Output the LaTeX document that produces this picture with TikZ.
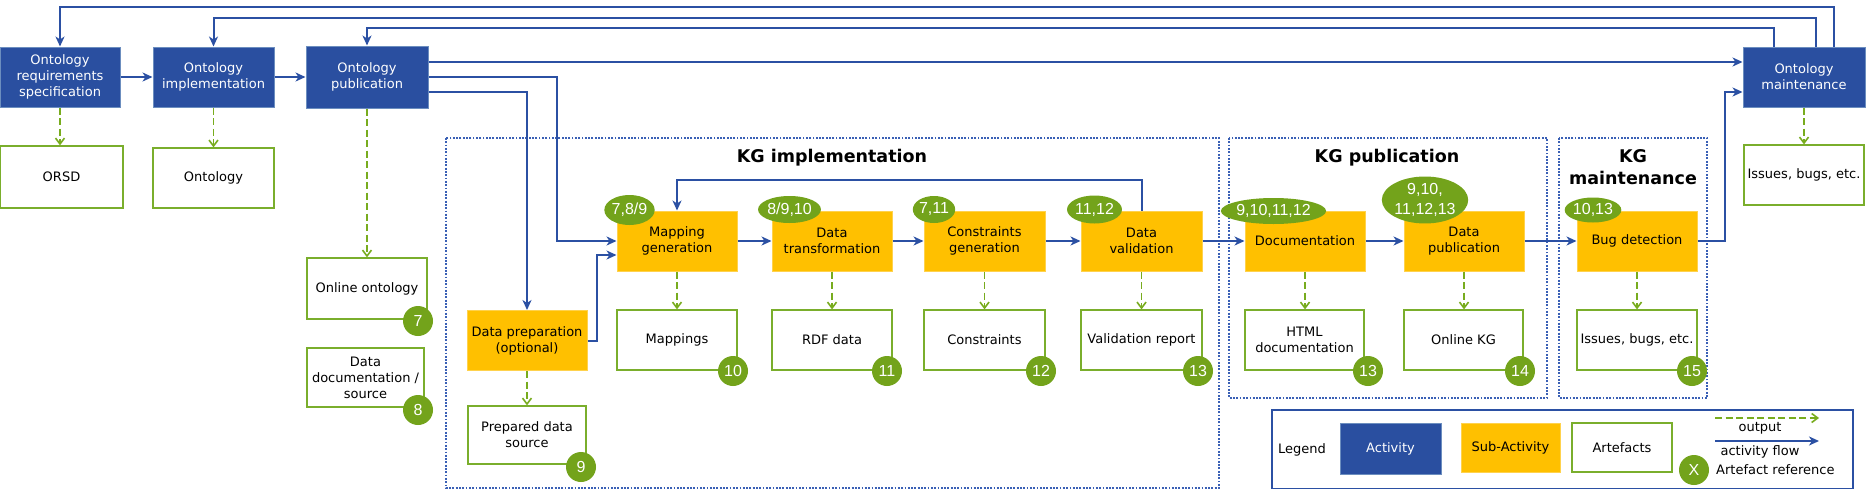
\documentclass[tikz,border=0pt]{standalone}
\usepackage{fontspec}
\setmainfont{DejaVu Sans}
\newfontfamily\numfont{Liberation Sans}
\usetikzlibrary{arrows.meta,shapes.geometric}
\definecolor{actblue}{HTML}{2A4FA0}
\definecolor{actborder}{HTML}{6C8EBF}
\definecolor{subor}{HTML}{FFC000}
\definecolor{suborb}{HTML}{FFD24D}
\definecolor{artgreen}{HTML}{7AAE2C}
\definecolor{numgreen}{HTML}{73A31B}
\definecolor{flowblue}{HTML}{2B50A3}
\definecolor{dotblue}{HTML}{3A60B5}
\definecolor{outgreen}{HTML}{78AC1E}
\tikzset{
 txt/.style={font=\fontsize{13}{16}\selectfont, align=center, inner sep=0pt},
 act/.style={txt, draw=actborder, line width=1pt, fill=actblue, text=white, minimum height=60pt},
 sub/.style={txt, draw=suborb, line width=1pt, fill=subor, text=black, minimum width=120pt, minimum height=60pt},
 art/.style={txt, draw=artgreen, line width=1.2pt, fill=white, text=black, minimum width=120pt, minimum height=60pt},
 num/.style={circle, fill=numgreen, text=white, minimum size=30pt, inner sep=0pt, font=\numfont\fontsize{16}{18}\selectfont},
 ell/.style={ellipse, fill=numgreen, text=white, inner sep=0pt, font=\numfont\fontsize{16}{18}\selectfont, align=center},
 flow/.style={draw=flowblue, line width=2pt, -{Stealth[length=10pt,width=9pt,inset=3pt]}},
 outp/.style={draw=outgreen, line width=1.6pt, dash pattern=on 7pt off 3.5pt, -{Straight Barb[length=6pt,width=9pt]}},
 kg/.style={draw=dotblue, line width=1.8pt, dash pattern=on 1.8pt off 1.5pt},
 ttl/.style={font=\bfseries\fontsize{17.5}{22}\selectfont, align=center, inner sep=0pt},
 lgd/.style={font=\fontsize{13}{16}\selectfont, inner sep=0pt},
}
\begin{document}
\begin{tikzpicture}[x=1pt,y=-1pt]
\useasboundingbox (0,0) rectangle (1866,490);
\fill[white] (0,0) rectangle (1866,490);

% dotted groups
\draw[kg] (446,138) rectangle (1219,488);
\draw[kg] (1229,138) rectangle (1547,398);
\draw[kg] (1559,138) rectangle (1707,398);
\node[ttl, anchor=base] (t1) at (832,162) {KG implementation};
\node[ttl, anchor=base] (t2) at (1387,162) {KG publication};
\node[ttl, anchor=base] (t3) at (1633,162) {KG};
\node[ttl, anchor=base] (t4) at (1633,184) {maintenance};

% activities
\node[act, minimum width=120pt] (ors) at (60,77) {Ontology\\requirements\\specification};
\node[act, minimum width=121pt] (impl) at (213.5,77) {Ontology\\implementation};
\node[act, minimum width=122pt, minimum height=62pt] (pub) at (367,77) {Ontology\\publication};
\node[act, minimum width=122pt] (maint) at (1804,77) {Ontology\\maintenance};

% sub-activities
\node[sub] (prep) at (527,340.5) {Data preparation\\(optional)};
\node[sub] (mapg) at (677,241) {Mapping\\generation};
\node[sub] (dtr) at (832,241) {Data\\transformation};
\node[sub, minimum width=121pt] (cons) at (984.5,241) {Constraints\\generation};
\node[sub, minimum width=121pt] (dval) at (1141.5,241) {Data\\validation};
\node[sub] (doc) at (1305,241) {Documentation};
\node[sub] (dpub) at (1464,241) {Data\\publication};
\node[sub] (bug) at (1637,241) {Bug detection};

% artefacts
\node[art, minimum width=123pt, minimum height=62pt] (orsd) at (61.5,177) {ORSD};
\node[art, minimum width=121pt] (onto) at (213.5,178) {Ontology};
\node[art, minimum height=61pt] (onl) at (367,288.5) {Online ontology};
\node[art, minimum width=117pt, minimum height=59pt] (ddoc) at (365.5,377.5) {Data\\documentation /\\source};
\node[art, minimum width=118pt, minimum height=58pt] (prd) at (527,435) {Prepared data\\source};
\node[art] (maps) at (677,340) {Mappings};
\node[art] (rdf) at (832,340) {RDF data};
\node[art, minimum width=121pt] (cart) at (984.5,340) {Constraints};
\node[art, minimum width=121pt] (vrep) at (1141.5,340) {Validation report};
\node[art, minimum width=119pt] (html) at (1304.5,340) {HTML\\documentation};
\node[art, minimum width=119pt] (okg) at (1463.5,340) {Online KG};
\node[art] (iss) at (1637,340) {Issues, bugs, etc.};
\node[art] (iss2) at (1804,175) {Issues, bugs, etc.};

% artefact references
\node[num] (n7) at (418,321) {7};
\node[num] (n8) at (418,410) {8};
\node[num] (n9) at (581,467) {9};
\node[num] (n10) at (733,371) {10};
\node[num] (n11) at (887,371) {11};
\node[num] (n12) at (1041,371) {12};
\node[num] (n13) at (1198,371) {13};
\node[num] (n13b) at (1368,371) {13};
\node[num] (n14) at (1520,371) {14};
\node[num] (n15) at (1692,371) {15};

% input references
\node[ell, minimum width=43pt, minimum height=30pt] (e1) at (629.5,210) {7,8/9};
\node[ell, minimum width=41pt, minimum height=27pt] (e2) at (789.5,209.5) {8/9,10};
\node[ell, minimum width=42pt, minimum height=27pt] (e3) at (934,209.5) {7,11};
\node[ell, minimum width=43pt, minimum height=28pt] (e4) at (1094.5,209.5) {11,12};
\node[ell, minimum width=83pt, minimum height=26pt] (e5) at (1273.5,211) {9,10,11,12};
\node[ell, minimum width=84pt, minimum height=42pt, font=\numfont\fontsize{16}{20}\selectfont] (e6) at (1425,200) {9,10,\\11,12,13};
\node[ell, minimum width=52pt, minimum height=25pt] (e7) at (1593,210) {10,13};

% activity flow
\draw[flow] ([xshift=30pt]maint.north) -- ++(0,-40) -| (ors.north);
\draw[flow] ([xshift=12pt]maint.north) -- ++(0,-29) -| (impl.north);
\draw[flow] ([xshift=-30pt]maint.north) -- ++(0,-19) -| (pub.north);
\draw[flow] ([yshift=15pt]pub.east) -- ([yshift=15pt]maint.west);
\draw[flow] (ors.east) -- (impl.west);
\draw[flow] (impl.east) -- (pub.west);
\draw[flow] (pub.east) -- (557,77) |- (mapg.west);
\draw[flow] ([yshift=-15pt]pub.east) -| (prep.north);
\draw[flow] (prep.east) -- (597,340.5) |- ([yshift=-14pt]mapg.west);
\draw[flow] (mapg.east) -- (dtr.west);
\draw[flow] (dtr.east) -- (cons.west);
\draw[flow] (cons.east) -- (dval.west);
\draw[flow] (dval.east) -- (doc.west);
\draw[flow] (doc.east) -- (dpub.west);
\draw[flow] (dpub.east) -- (bug.west);
\draw[flow] (dval.north) -- ++(0,-31) -| (mapg.north);
\draw[flow] (bug.east) -- (1725,241) |- ([yshift=-15pt]maint.west);

% outputs
\draw[outp] (ors.south) -- (ors.south |- orsd.north);
\draw[outp] (impl.south) -- (impl.south |- onto.north);
\draw[outp] (pub.south) -- (pub.south |- onl.north);
\draw[outp] (maint.south) -- (maint.south |- iss2.north);
\draw[outp] (prep.south) -- (prep.south |- prd.north);
\draw[outp] (mapg.south) -- (mapg.south |- maps.north);
\draw[outp] (dtr.south) -- (dtr.south |- rdf.north);
\draw[outp] (cons.south) -- (cons.south |- cart.north);
\draw[outp] (dval.south) -- (dval.south |- vrep.north);
\draw[outp] (doc.south) -- (doc.south |- html.north);
\draw[outp] (dpub.south) -- (dpub.south |- okg.north);
\draw[outp] (bug.south) -- (bug.south |- iss.north);

% legend
\draw[draw=flowblue, line width=1.2pt] (1272,410) rectangle (1853,488.5);
\node[lgd] (lg) at (1302,450) {Legend};
\node[act, minimum width=101pt, minimum height=51pt] (la) at (1390.5,448.5) {Activity};
\node[sub, minimum width=99pt, minimum height=49pt] (ls) at (1510.5,447.5) {Sub-Activity};
\node[art, minimum width=100pt, minimum height=49pt] (lar) at (1622,447.5) {Artefacts};
\coordinate (o1) at (1715,418);
\coordinate (o2) at (1819,418);
\coordinate (f1) at (1715,441);
\coordinate (f2) at (1819,441);
\draw[outp] (o1) -- (o2);
\draw[flow] (f1) -- (f2);
\node[lgd] (lo) at (1760,428) {output};
\node[lgd] (lf) at (1760,452) {activity flow};
\node[num] (lx) at (1694,470) {X};
\node[lgd, anchor=west] (lr) at (1716,470) {Artefact reference};
\end{tikzpicture}
\end{document}
